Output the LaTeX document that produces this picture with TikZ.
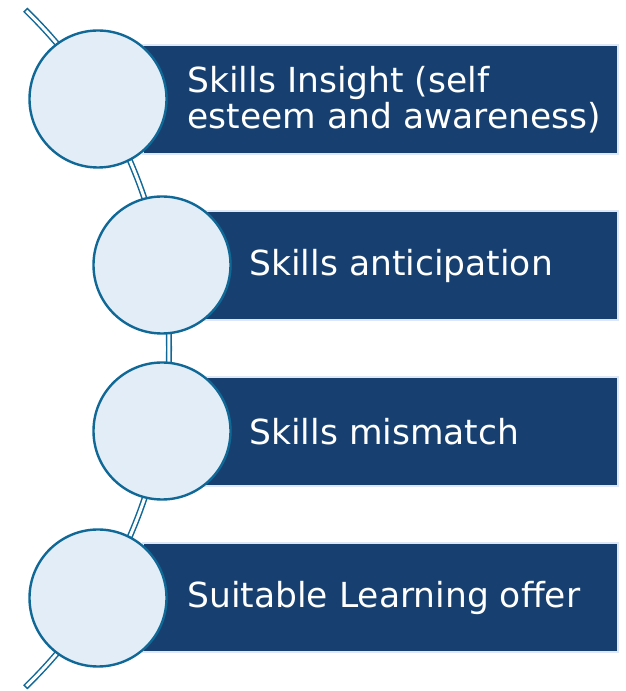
\documentclass[tikz,border=0pt]{standalone}
\usepackage{fontspec}
\setmainfont{DejaVu Sans}
\usetikzlibrary{positioning}

\definecolor{listnavy}{RGB}{23,64,112}
\definecolor{ringblue}{RGB}{16,104,150}
\definecolor{discfill}{RGB}{227,237,248}
\definecolor{boxedge}{RGB}{222,232,244}

\begin{document}
\begin{tikzpicture}[
    x=1pt, y=1pt,
    bar/.style={rectangle, draw=boxedge, line width=1.5pt, fill=listnavy, minimum height=109pt, inner sep=0pt},
    disc/.style={circle, draw=ringblue, line width=2.4pt, fill=discfill, minimum size=137pt, inner sep=0pt},
    caption/.style={inner sep=0pt, text=white, align=left, font=\fontsize{34.5}{35.5}\selectfont},
    spine/.style={draw=ringblue, line width=6pt},
    spinecore/.style={draw=white, line width=3pt},
]
\useasboundingbox (0,0) rectangle (626,691);

% curved spine running behind the discs (outline, then white core)
\draw [spine] (-302,342.5) ++(46:471) arc (46:-46:471);
\draw [spinecore] (-302,342.5) ++(45.8:471) arc (45.8:-45.8:471);

\node [bar, minimum width=475pt] (bar1) at (380.5,591.5) {};
\node [bar, minimum width=413pt] (bar2) at (411.5,425.5) {};
\node [bar, minimum width=413pt] (bar3) at (411.5,259.5) {};
\node [bar, minimum width=475pt] (bar4) at (380.5,93.5) {};

\node [caption, right=45pt of bar1.west] (text1) {Skills Insight (self\\esteem and awareness)};
\node [caption, right=45pt of bar2.west] (text2) {Skills anticipation};
\node [caption, right=45pt of bar3.west] (text3) {Skills mismatch};
\node [caption, right=45pt of bar4.west] (text4) {Suitable Learning offer};

\node [disc] (disc1) at (98,592) {};
\node [disc] (disc2) at (162,426) {};
\node [disc] (disc3) at (162,260) {};
\node [disc] (disc4) at (98,93) {};

\end{tikzpicture}
\end{document}
